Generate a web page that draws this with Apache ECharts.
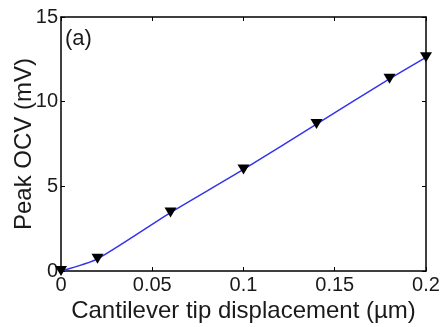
<!DOCTYPE html>
<html>
<head>
<meta charset="utf-8">
<script src="https://cdn.jsdelivr.net/npm/echarts@6/dist/echarts.min.js"></script>
<style>
  html, body { margin: 0; padding: 0; background: #fff; }
  #chart { width: 441px; height: 327px; }
</style>
</head>
<body>
<div id="chart"></div>
<script>
const displacement = [0, 0.02, 0.06, 0.1, 0.14, 0.18, 0.2];
const peakOcv = [0, 0.72, 3.45, 6.0, 8.68, 11.35, 12.62];
const xTicks = [0, 0.05, 0.1, 0.15, 0.2];
const yTicks = [0, 5, 10, 15];

const chart = echarts.init(document.getElementById("chart"));
const font = "Liberation Sans, Arial, sans-serif";
const ink = "#1a1a1a";

const mirrorAxis = {
  axisLine: { show: true, onZero: false, lineStyle: { color: "#000", width: 1.5 } },
  axisTick: { show: true, inside: true, length: 4, lineStyle: { color: "#000" } },
  axisLabel: { show: false },
  splitLine: { show: false },
};

chart.setOption({
  animation: false,
  grid: { left: 61, right: 15, top: 17, bottom: 56, containLabel: false, outerBoundsMode: "none" },
  graphic: [
    {
      type: "text",
      left: 65,
      top: 28,
      style: { text: "(a)", font: "22px " + font, fill: ink },
    },
  ],
  xAxis: [
    {
      type: "value",
      min: 0,
      max: 0.2,
      interval: 0.05,
      name: "Cantilever tip displacement (µm)",
      nameLocation: "middle",
      nameGap: 28,
      nameMoveOverlap: false,
      nameTextStyle: { fontFamily: font, fontSize: 24, color: ink },
      axisLine: { onZero: false, lineStyle: { color: "#000", width: 1.5 } },
      axisTick: { inside: true, length: 4, lineStyle: { color: "#000" } },
      axisLabel: {
        fontFamily: font,
        fontSize: 20,
        color: ink,
        margin: 4,
        formatter: (v) => (xTicks.includes(+v.toFixed(2)) ? String(+v.toFixed(2)) : ""),
      },
      splitLine: { show: false },
    },
    Object.assign({ type: "value", position: "top", min: 0, max: 0.2, interval: 0.05 }, mirrorAxis),
  ],
  yAxis: [
    {
      type: "value",
      min: 0,
      max: 15,
      interval: 5,
      name: "Peak OCV (mV)",
      nameLocation: "middle",
      nameGap: 25,
      nameMoveOverlap: false,
      nameTextStyle: { fontFamily: font, fontSize: 24, color: ink },
      axisLine: { onZero: false, lineStyle: { color: "#000", width: 1.5 } },
      axisTick: { inside: true, length: 4, lineStyle: { color: "#000" } },
      axisLabel: {
        fontFamily: font,
        fontSize: 20,
        color: ink,
        margin: 3,
        formatter: (v) => (yTicks.includes(v) ? String(v) : ""),
      },
      splitLine: { show: false },
    },
    Object.assign({ type: "value", position: "right", min: 0, max: 15, interval: 5 }, mirrorAxis),
  ],
  series: [
    {
      type: "line",
      data: displacement.map((x, i) => [x, peakOcv[i]]),
      smooth: 0.2,
      lineStyle: { color: "#3333ee", width: 1.5 },
      symbol: "triangle",
      symbolRotate: 180,
      symbolSize: [12, 10],
      itemStyle: { color: "#000" },
      clip: false,
    },
  ],
});
</script>
</body>
</html>
